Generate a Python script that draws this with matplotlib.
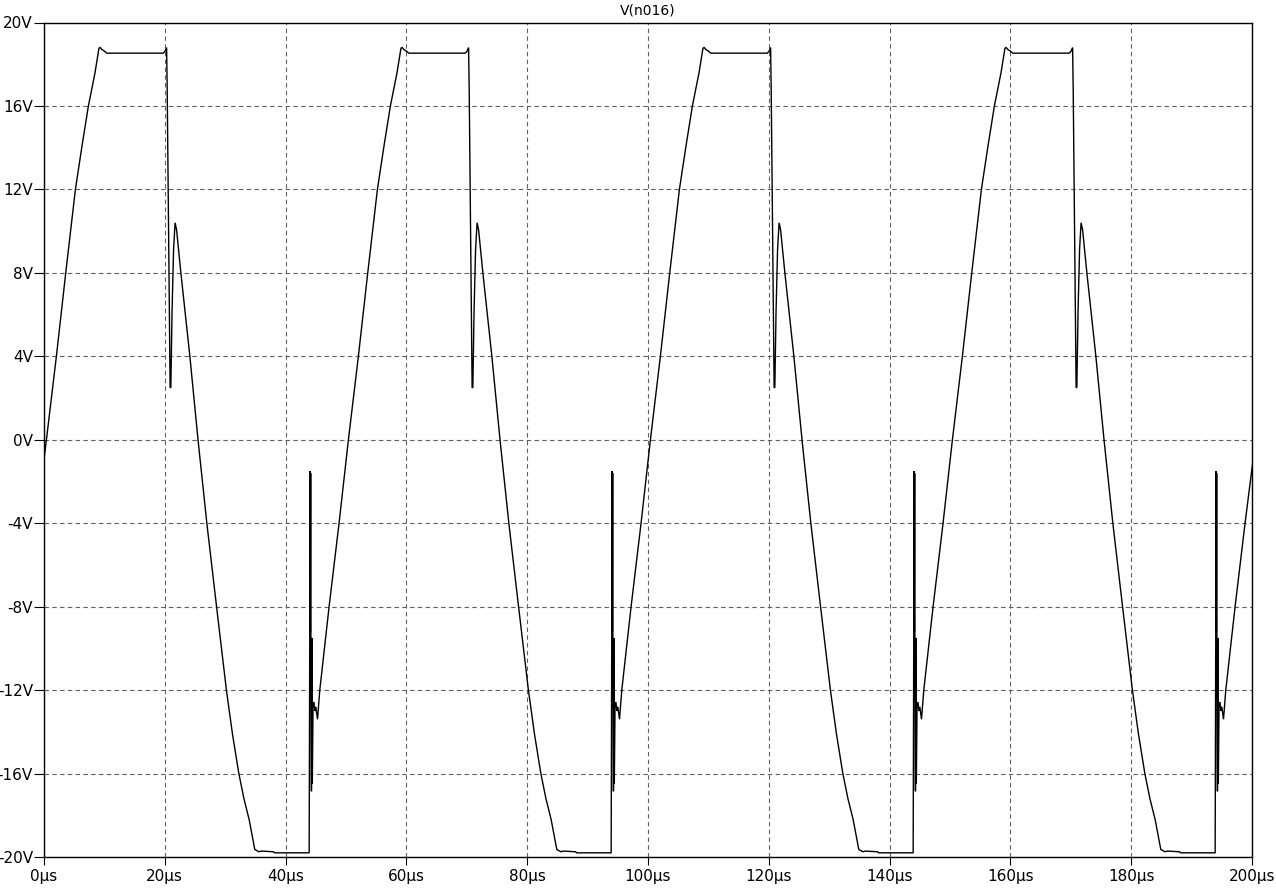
import numpy as np
import matplotlib
matplotlib.use("Agg")
import matplotlib.pyplot as plt

# one 50us cycle of V(n016) (time in us, volts)
cycle_t = [0.4, 2.05, 3.6, 5.2, 6.3, 7.35, 8.44, 9.1, 9.3, 9.6, 9.9, 10.4,
           19.7, 20.0, 20.3, 20.4, 20.55, 20.7, 20.88, 21.0, 21.2, 21.45,
           21.7, 21.95, 22.66, 24.15, 25.5, 26.96, 28.57, 30.2, 31.2, 32.26, 33.1,
           33.96, 34.9, 35.6, 35.9, 36.3, 38.0, 38.2, 43.9, 43.95, 44.0, 44.03,
           44.1, 44.15, 44.2, 44.28, 44.35, 44.42, 44.55, 44.7, 44.85, 45.0,
           45.28, 45.66, 47.2, 48.85]
cycle_v = [0.0, 4.0, 8.0, 12.0, 14.1, 16.0, 17.58, 18.77, 18.8, 18.7, 18.65, 18.53,
           18.53, 18.6, 18.8, 16.7, 12.1, 7.05, 2.5, 2.5, 6.15, 9.1,
           10.4, 10.07, 8.0, 4.0, 0.0, -4.0, -8.0, -12.0, -14.1, -16.0, -17.2,
           -18.2, -19.64, -19.75, -19.72, -19.72, -19.75, -19.8, -19.8, -14.0, -9.2, -1.5,
           -9.2, -1.6, -12.0, -16.85, -9.5, -16.5, -12.6, -12.6, -13.0, -12.8,
           -13.4, -12.0, -8.0, -4.0]
period = 50
n_periods = 4
start_t, start_v = 0.0, -0.95
end_t, end_v = 200.6, 0.0

t = [start_t]
v = [start_v]
for k in range(n_periods):
    t += [x + k * period for x in cycle_t]
    v += cycle_v
t.append(end_t)
v.append(end_v)

x_ticks = list(range(0, 201, 20))
x_labels = [f"{x}\u00b5s" for x in x_ticks]
y_ticks = list(range(-20, 21, 4))
y_labels = [f"{y}V" for y in y_ticks]

fig = plt.figure(figsize=(12.76, 8.89), dpi=100)
ax = fig.add_axes([44 / 1276, 32 / 889, (1252 - 44) / 1276, (857 - 22.5) / 889])

ax.plot(t, v, color="black", lw=1.0, solid_joinstyle="miter")

ax.set_xlim(0, 200)
ax.set_ylim(-20, 20)
ax.set_xticks(x_ticks)
ax.set_xticklabels(x_labels)
ax.set_yticks(y_ticks)
ax.set_yticklabels(y_labels)
ax.tick_params(axis="y", direction="out", length=7.5, width=0.8, pad=0.5, labelsize=11)
ax.tick_params(axis="x", direction="out", length=5.5, width=0.8, pad=3, labelsize=11)
ax.grid(True, color="#606060", linestyle=(0, (4, 3)), linewidth=0.8)
for s in ax.spines.values():
    s.set_linewidth(1.0)
    s.set_color("black")

fig.text(648 / 1276, 1 - 11 / 889, "V(n016)", ha="center", va="center", fontsize=10)

fig.savefig("out.png", dpi=100)
